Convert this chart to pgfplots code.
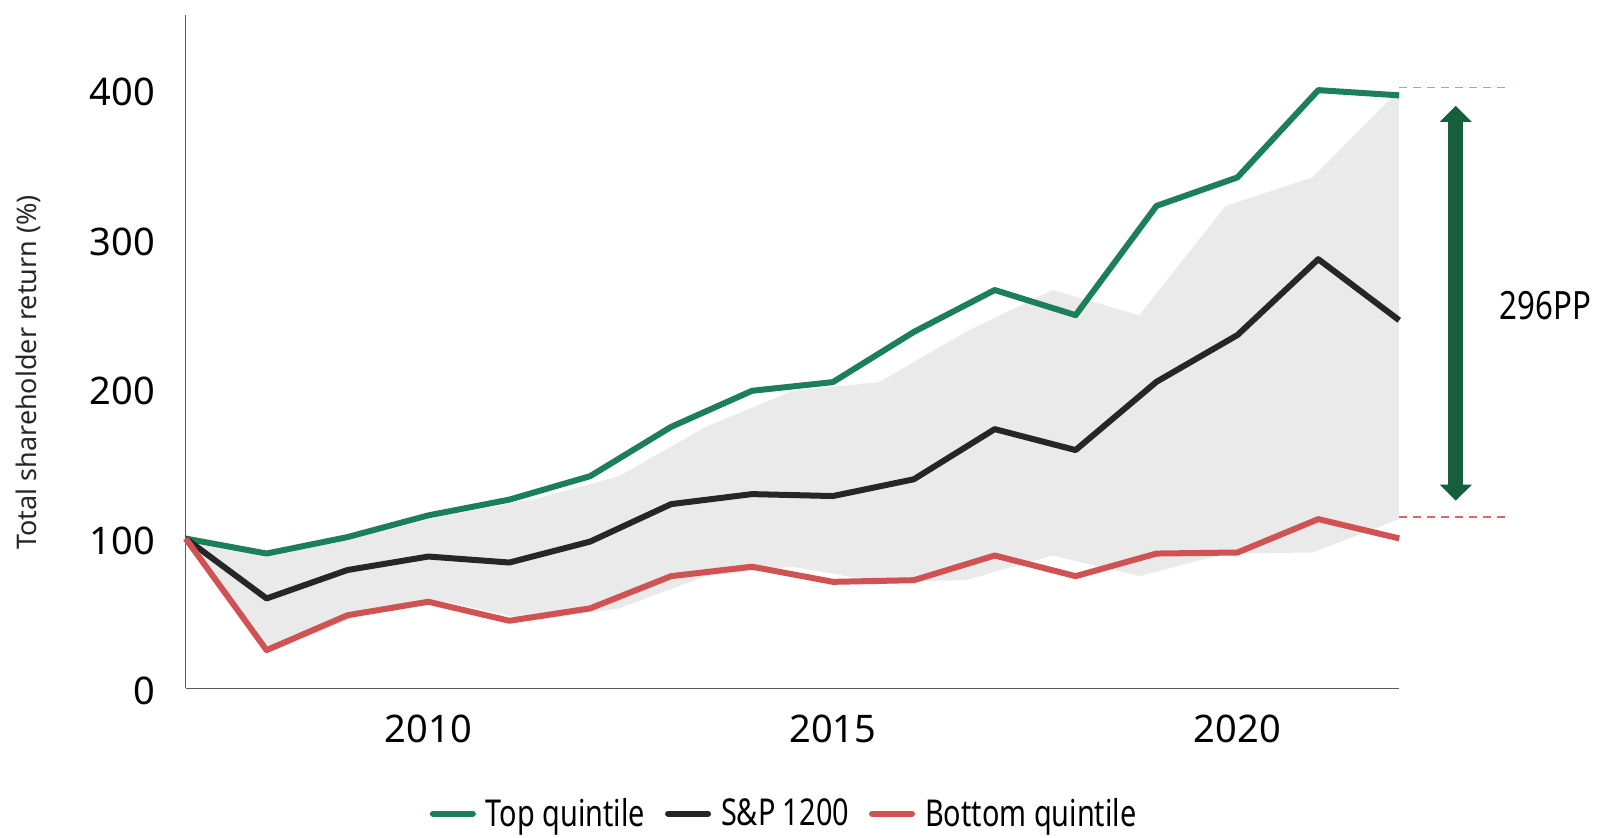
\documentclass[border=0pt]{standalone}
\usepackage{pgfplots}
\pgfplotsset{compat=1.18}
\usepackage{fontspec}
\setmainfont{Noto Sans}
\newfontfamily\condfont[FakeStretch=0.78]{Noto Sans}
\newfontfamily\annfont[FakeStretch=0.8]{Noto Sans}
\usetikzlibrary{arrows.meta}
\definecolor{topq}{HTML}{1B7F5A}
\definecolor{spx}{HTML}{262626}
\definecolor{botq}{HTML}{D05252}
\definecolor{band}{HTML}{EAEAEA}
\definecolor{arrowgreen}{HTML}{165E3C}
\definecolor{dashgreen}{HTML}{6EC4A8}
\definecolor{dashred}{HTML}{E06666}
\definecolor{axisgray}{HTML}{5A5A5A}
\begin{document}
\begin{tikzpicture}
\path[use as bounding box] (-92.85pt,-74.35pt) rectangle (713.65pt,344.15pt);
\begin{axis}[
  at={(0,0)}, anchor=south west,
  scale only axis,
  width=606.75pt, height=336.9pt,
  xmin=2007, xmax=2022, ymin=0, ymax=450,
  axis x line=bottom, axis y line=left,
  axis line style={-, draw=axisgray, line width=0.8pt},
  major tick length=0pt,
  xtick={2010,2015,2020},
  ytick={0,100,200,300,400},
  /pgf/number format/assume math mode=true,
  /pgf/number format/set thousands separator={},
  tick label style={font=\fontsize{19}{22}\selectfont, text=black},
  xticklabel style={anchor=north, inner sep=0pt, yshift=-13.3pt},
  yticklabel style={anchor=east, inner sep=0pt, xshift=-15.2pt, yshift=-1.2pt},
  ylabel={Total shareholder return (\%)},
  ylabel style={at={(axis description cs:-0.1294,0.469)}, anchor=center, font=\fontsize{13.5}{16}\selectfont, text=black!85},
  clip=false,
  legend columns=3,
  legend style={at={(0.494,-0.186)}, anchor=center, draw=none, fill=none,
    font=\condfont\fontsize{18.5}{21}\selectfont,
    /tikz/every odd column/.append style={column sep=3pt},
    /tikz/every even column/.append style={column sep=8pt},
    inner sep=0pt},
  legend image code/.code={\draw[#1, line width=3pt, line cap=round] (0pt,0pt) -- (20pt,0pt);},
  line join=round,
]
% shaded band
\addplot[fill=band, draw=none, forget plot] coordinates {
(2007,100) (2008.071,90) (2009.143,101) (2010.214,115.5) (2011.286,126) (2012.357,141.7)
(2013.429,174.6) (2014.5,198.7) (2015.571,204.5) (2016.643,238) (2017.714,266)
(2018.786,249.2) (2019.857,322.2) (2020.929,341.2) (2022,399.5)
(2022,113) (2020.929,90.7) (2019.857,90) (2018.786,74.9) (2017.714,88.7)
(2016.643,72.2) (2015.571,71.1) (2014.5,81.2) (2013.429,74.9) (2012.357,53.4)
(2011.286,45.1) (2010.214,57.8) (2009.143,48.8) (2008.071,25.5) (2007,100)
} -- cycle;
\addplot[topq, line width=3pt] coordinates {
(2007,100) (2008,90) (2009,101) (2010,115.5) (2011,126) (2012,141.7) (2013,174.6)
(2014,198.7) (2015,204.5) (2016,238) (2017,266) (2018,249.2) (2019,322.2)
(2020,341.2) (2021,399.5) (2022,396)};
\addlegendentry{Top quintile}
\addplot[spx, line width=3pt] coordinates {
(2007,100) (2008,60) (2009,79) (2010,88) (2011,84) (2012,98) (2013,123)
(2014,129.7) (2015,128.4) (2016,139.6) (2017,173.1) (2018,159.1) (2019,204.7)
(2020,235.9) (2021,286.6) (2022,245.8)};
\addlegendentry{S\&P 1200}
\addplot[botq, line width=3pt] coordinates {
(2007,100) (2008,25.5) (2009,48.8) (2010,57.8) (2011,45.1) (2012,53.4) (2013,74.9)
(2014,81.2) (2015,71.1) (2016,72.2) (2017,88.7) (2018,74.9) (2019,90)
(2020,90.7) (2021,113) (2022,100.1)};
\addlegendentry{Bottom quintile}
% reference dashed lines
\addplot[dashgreen, line width=0.8pt, dash pattern=on 4pt off 3pt, forget plot] coordinates {(2022,401.3) (2023.33,401.3)};
\addplot[dashred, line width=0.8pt, dash pattern=on 4pt off 3pt, forget plot] coordinates {(2022,114.6) (2023.33,114.6)};
\draw[arrowgreen, line width=7.5pt, {Triangle[width=15.5pt,length=8pt]}-{Triangle[width=15.5pt,length=8pt]}]
  (axis cs:2022.70,389) -- (axis cs:2022.70,125.3);
\node[font=\annfont\fontsize{19.5}{22}\selectfont, anchor=center] at (axis cs:2023.81,255.3) {296PP};
\end{axis}
\end{tikzpicture}
\end{document}
